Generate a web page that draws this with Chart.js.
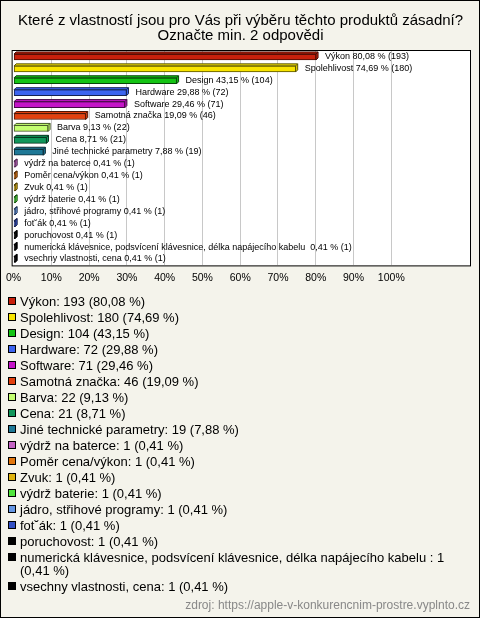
<!DOCTYPE html>
<html><head><meta charset="utf-8">
<script src="https://cdn.jsdelivr.net/npm/chart.js@4"></script>
<style>
html,body{margin:0;padding:0;background:#f4f3eb;}
#wrap{position:relative;width:480px;height:618px;box-sizing:border-box;border:1px solid #000;background:#f4f3eb;font-family:"Liberation Sans",Arial,sans-serif;overflow:hidden;}
#c{position:absolute;left:-1px;top:-1px;}
#legend{position:absolute;left:7px;top:293.5px;width:455px;font-size:13px;line-height:13px;color:#000;}
.item{position:relative;padding-left:12px;margin-bottom:3px;}
.box{position:absolute;left:0;top:2.5px;width:6px;height:6px;border:1px solid #000;}
#src{position:absolute;right:9px;top:597px;font-size:12px;line-height:14px;color:#888;}
</style></head>
<body>
<div id="wrap">
<canvas id="c" width="480" height="300" style="width:480px;height:300px"></canvas>
<div id="legend"></div>
<div id="src">zdroj: https://apple-v-konkurencnim-prostre.vyplnto.cz</div>
</div>
<script>
const titleLines = ["Které z vlastností jsou pro Vás při výběru těchto produktů zásadní?", "Označte min. 2 odpovědi"];
const categories = ["Výkon","Spolehlivost","Design","Hardware","Software","Samotná značka","Barva","Cena","Jiné technické parametry","výdrž na baterce","Poměr cena/výkon","Zvuk","výdrž baterie","jádro, střihové programy","fot˘ák","poruchovost","numerická klávesnice, podsvícení klávesnice, délka napájecího kabelu ","vsechny vlastnosti, cena"];
const counts = [193,180,104,72,71,46,22,21,19,1,1,1,1,1,1,1,1,1];
const percents = [80.08,74.69,43.15,29.88,29.46,19.09,9.13,8.71,7.88,0.41,0.41,0.41,0.41,0.41,0.41,0.41,0.41,0.41];
const colors = ["#c8200c","#f8e400","#14c414","#3c64f0","#c414c8","#e2400e","#c4ff70","#10965a","#1e7896","#c464c4","#e2760e","#e0b410","#50e43c","#6496e4","#3250c4","#000000","#000000","#000000"];
const tickValues = [0,10,20,30,40,50,60,70,80,90,100];

const FONT = '"Liberation Sans", Arial, sans-serif';
const fmt = v => v.toFixed(2).replace('.', ',');
function shade(hex, f){
  const n = parseInt(hex.slice(1),16);
  let r=(n>>16)&255,g=(n>>8)&255,b=n&255;
  r=Math.round(r*f);g=Math.round(g*f);b=Math.round(b*f);
  return `rgb(${Math.min(255,r)},${Math.min(255,g)},${Math.min(255,b)})`;
}
const borderColors = colors.map(c => c === "#000000" ? "#000" : shade(c, 0.35));

// legend
const lg = document.getElementById('legend');
categories.forEach((c,i)=>{
  const d = document.createElement('div'); d.className='item';
  const b = document.createElement('span'); b.className='box'; b.style.background=colors[i];
  d.appendChild(b);
  d.appendChild(document.createTextNode(`${c}: ${counts[i]} (${fmt(percents[i])} %)`));
  lg.appendChild(d);
});

const areaPlugin = {
  id:'area',
  beforeDraw(chart){
    const {ctx, chartArea:a} = chart;
    ctx.save(); ctx.fillStyle='#fff'; ctx.fillRect(a.left,a.top,a.right-a.left,a.bottom-a.top); ctx.restore();
  },
  afterDraw(chart){
    const {ctx, chartArea:a} = chart;
    ctx.save(); ctx.strokeStyle='#000'; ctx.lineWidth=1;
    ctx.strokeRect(a.left-0.5,a.top-0.5,a.right-a.left+1,a.bottom-a.top+1); ctx.restore();
  }
};
const bar3d = {
  id:'bar3d',
  afterDatasetsDraw(chart){
    const ctx = chart.ctx; const meta = chart.getDatasetMeta(0); const d = 2;
    ctx.save(); ctx.lineWidth=1;
    meta.data.forEach((el,i)=>{
      const l = Math.min(el.base, el.x), r = Math.max(el.base, el.x);
      const t = el.y - el.height/2, b = el.y + el.height/2;
      ctx.strokeStyle = borderColors[i];
      ctx.fillStyle = colors[i];
      ctx.beginPath();
      ctx.moveTo(l,t); ctx.lineTo(l+d,t-d); ctx.lineTo(r+d,t-d); ctx.lineTo(r+d,b-d); ctx.lineTo(r,b); ctx.lineTo(r,t); ctx.closePath();
      ctx.fill(); ctx.stroke();
      ctx.beginPath(); ctx.moveTo(r,t); ctx.lineTo(r+d,t-d); ctx.stroke();
    });
    // labels
    ctx.fillStyle='#000'; ctx.font = '9px ' + FONT; ctx.textBaseline='middle'; ctx.textAlign='left';
    meta.data.forEach((el,i)=>{
      ctx.fillText(`${categories[i]} ${fmt(percents[i])} % (${counts[i]})`, el.x + 9, el.y - 0.5);
    });
    ctx.restore();
  }
};

new Chart(document.getElementById('c'), {
  type:'bar',
  data:{labels:categories, datasets:[{data:percents, backgroundColor:colors, borderColor:borderColors, borderWidth:1, borderSkipped:false, barThickness:6}]},
  options:{
    indexAxis:'y', responsive:false, animation:false, devicePixelRatio:1,
    layout:{padding:{left:11,right:10,top:0,bottom:10}},
    plugins:{
      legend:{display:false}, tooltip:{enabled:false},
      title:{display:true, text:titleLines, color:'#000', font:{size:15, family:FONT, weight:'normal', lineHeight:1}, padding:{top:13,bottom:8}}
    },
    scales:{
      x:{min:-0.26, max:120.84, border:{display:false},
         grid:{drawTicks:false, lineWidth:1, color:c => (c.tick && c.tick.value>0 && c.tick.value<=100) ? '#c8c8c8' : 'rgba(0,0,0,0)'},
         ticks:{padding:6, color:'#000', font:{size:10.5, family:FONT}, callback:v => v + '%', maxRotation:0, autoSkip:false},
         afterBuildTicks:s => { s.ticks = tickValues.map(v => ({value:v})); }
      },
      y:{display:false}
    }
  },
  plugins:[areaPlugin, bar3d]
});
</script>
</body></html>
